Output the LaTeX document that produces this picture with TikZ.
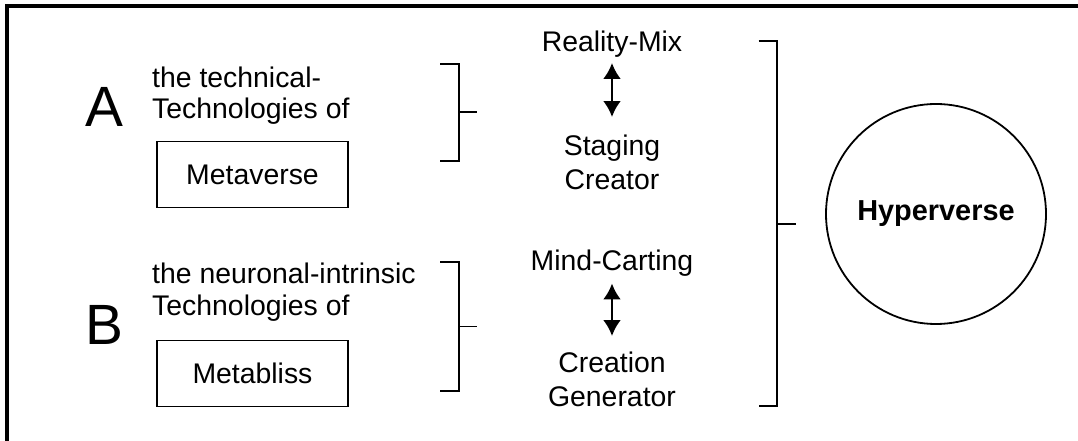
\documentclass[tikz,border=0pt]{standalone}
\usepackage{fontspec}
\setmainfont{Liberation Sans}
\usetikzlibrary{arrows.meta}
\begin{document}
\begin{tikzpicture}[x=1bp,y=-1bp,
  txt/.style={inner sep=0pt,font=\fontsize{28.5}{32}\selectfont},
  big/.style={inner sep=0pt,font=\fontsize{57}{60}\selectfont},
  boxnode/.style={draw,line width=1.8pt,minimum width=191bp,minimum height=66bp,inner sep=0pt,font=\fontsize{28.5}{32}\selectfont},
  brack/.style={line width=2pt},
  dbl/.style={line width=2.6pt,{Latex[length=16pt,width=18pt]}-{Latex[length=16pt,width=18pt]}},
  hyper/.style={draw,circle,line width=1.8pt,minimum size=220bp,inner sep=0pt,font=\fontsize{29}{32}\selectfont\bfseries}]
\useasboundingbox (0,0) rectangle (1078,441);
\fill[white] (-12,-12) rectangle (1092,453);
% frame (top and left only)
\draw[line width=4pt] (7,441) -- (7,6) -- (1078,6);

% group A
\node[big,anchor=base] (A) at (104,127) {A};
\node[txt,anchor=base west] (a1) at (152,88) {the technical-};
\node[txt,anchor=base west] (a2) at (152,119) {Technologies of};
\node[boxnode] (meta) at (252.5,174.5) {Metaverse};

% group B
\node[big,anchor=base] (B) at (104,345) {B};
\node[txt,anchor=base west] (b1) at (152,284) {the neuronal-intrinsic};
\node[txt,anchor=base west] (b2) at (152,316) {Technologies of};
\node[boxnode] (bliss) at (252.5,373.5) {Metabliss};

% brackets A and B
\coordinate (aT) at (440,63.7);
\coordinate (aB) at (440,160.8);
\coordinate (aM) at (477,112.3);
\draw[brack] (aT) -- (459,63.7) -- (459,160.8) -- (aB);
\draw[brack] (459,112.3) -- (aM);
\coordinate (bT) at (440,262);
\coordinate (bB) at (440,391);
\coordinate (bM) at (477,326.5);
\draw[brack] (bT) -- (459,262) -- (459,391) -- (bB);
\draw[brack] (459,326.5) -- (bM);

% middle column
\node[txt,anchor=base] (rm) at (612,52) {Reality-Mix};
\node[txt,anchor=base] (sg) at (612,156) {Staging};
\node[txt,anchor=base] (cr) at (612,190) {Creator};
\coordinate (r1) at (612,63);
\coordinate (r2) at (612,117);
\draw[dbl] (r1) -- (r2);

\node[txt,anchor=base] (mc) at (612,271) {Mind-Carting};
\node[txt,anchor=base] (ct) at (612,373) {Creation};
\node[txt,anchor=base] (gn) at (612,407) {Generator};
\coordinate (m1) at (612,283.5);
\coordinate (m2) at (612,336);
\draw[dbl] (m1) -- (m2);

% big bracket
\coordinate (hT) at (758.5,41.3);
\coordinate (hB) at (758.5,405.8);
\coordinate (hM) at (796,224);
\draw[brack] (hT) -- (777.4,41.3) -- (777.4,405.8) -- (hB);
\draw[brack] (777.4,224) -- (hM);

% Hyperverse
\node[hyper] (hyp) at (936,214) {Hyperverse};
\end{tikzpicture}
\end{document}
